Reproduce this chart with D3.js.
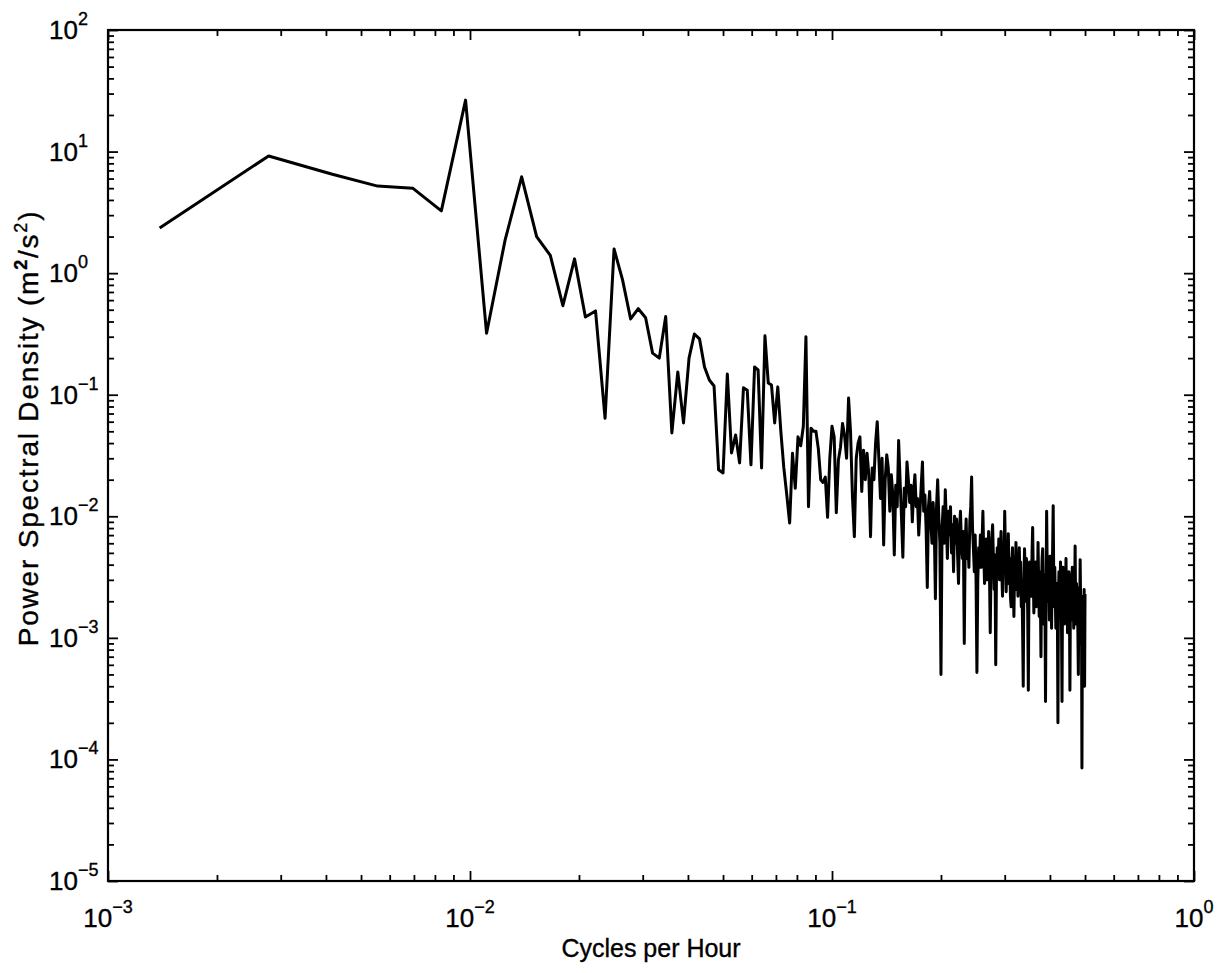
<!DOCTYPE html>
<html><head><meta charset="utf-8">
<script src="https://cdn.jsdelivr.net/npm/d3@7"></script>
<style>
body{margin:0;background:#fff}
svg{display:block}
text{font-family:"Liberation Sans",Arial,Helvetica,sans-serif;fill:#000;stroke:#000;stroke-width:0.35px}
</style>
</head><body>
<svg id="chart" width="1228" height="973"></svg>
<script>
// Record length in hours: spectral estimates sit on the bins k / nHours, k = 1..360
const nHours = 720;

// Power spectral density (m^2/s^2), one value per frequency bin
const psdValues = [
  2.35, 9.2, 6.5, 5.2, 5.0, 3.25, 26.5, 0.32, 1.87, 6.2,
  2.0, 1.4, 0.54, 1.31, 0.436, 0.489, 0.064, 1.58, 0.88, 0.42,
  0.51, 0.43, 0.22, 0.20, 0.44, 0.0485, 0.154, 0.0586, 0.20, 0.316,
  0.288, 0.169, 0.132, 0.118, 0.0241, 0.0227, 0.148, 0.0332, 0.0466, 0.0275,
  0.114, 0.109, 0.0265, 0.169, 0.16, 0.025, 0.305, 0.125, 0.12, 0.0586,
  0.116, 0.05, 0.025, 0.015, 0.0088, 0.033, 0.017, 0.045, 0.038, 0.055,
  0.30, 0.012, 0.053, 0.05, 0.05, 0.036, 0.02, 0.019, 0.021, 0.0098,
  0.03, 0.055, 0.045, 0.0107, 0.029, 0.037, 0.058, 0.046, 0.03, 0.094,
  0.05, 0.0146, 0.0068, 0.03, 0.04, 0.045, 0.016, 0.035, 0.02, 0.033,
  0.022, 0.0068, 0.025, 0.02, 0.04, 0.06, 0.03, 0.014, 0.03, 0.0058,
  0.02, 0.032, 0.025, 0.011, 0.022, 0.015, 0.0048, 0.018, 0.012, 0.042,
  0.02, 0.01, 0.0046, 0.017, 0.012, 0.028, 0.02, 0.013, 0.018, 0.009,
  0.016, 0.022, 0.012, 0.014, 0.007, 0.011, 0.018, 0.028, 0.011, 0.015,
  0.008, 0.0026, 0.012, 0.016, 0.009, 0.006, 0.013, 0.008, 0.0021, 0.012,
  0.02, 0.01, 0.006, 0.0005, 0.008, 0.012, 0.006, 0.0165, 0.009, 0.0045,
  0.011, 0.007, 0.012, 0.005, 0.0085, 0.0035, 0.01, 0.006, 0.0095, 0.005,
  0.0028, 0.008, 0.011, 0.006, 0.0045, 0.0075, 0.0009, 0.006, 0.0095, 0.0045,
  0.0065, 0.0038, 0.009, 0.012, 0.021, 0.008, 0.0055, 0.0035, 0.007, 0.003,
  0.00052, 0.003, 0.0055, 0.0038, 0.007, 0.0038, 0.006, 0.011, 0.005, 0.0028,
  0.0045, 0.0065, 0.003, 0.0042, 0.0075, 0.0035, 0.0011, 0.004, 0.0065, 0.0085,
  0.0045, 0.0025, 0.0048, 0.0006, 0.0035, 0.0055, 0.0038, 0.0065, 0.003, 0.0048,
  0.0075, 0.0035, 0.0022, 0.006, 0.0042, 0.011, 0.005, 0.0024, 0.0045, 0.0028,
  0.0072, 0.0035, 0.0045, 0.0022, 0.0018, 0.004, 0.0055, 0.003, 0.0015, 0.0038,
  0.0025, 0.0061, 0.0035, 0.0048, 0.0022, 0.0032, 0.0055, 0.0028, 0.0042, 0.0018,
  0.003, 0.0012, 0.0004, 0.0028, 0.0054, 0.0035, 0.002, 0.0045, 0.003, 0.0016,
  0.00037, 0.0025, 0.0042, 0.0028, 0.0038, 0.0022, 0.005, 0.0081, 0.0035, 0.0016,
  0.003, 0.0023, 0.0042, 0.0018, 0.0032, 0.0026, 0.0061, 0.003, 0.0015, 0.0035,
  0.0022, 0.0007, 0.0028, 0.0045, 0.0054, 0.0025, 0.0013, 0.0033, 0.0019, 0.0003,
  0.0024, 0.011, 0.0038, 0.002, 0.0042, 0.0028, 0.0014, 0.0047, 0.0025, 0.0035,
  0.0012, 0.003, 0.0055, 0.0122, 0.0032, 0.0018, 0.0038, 0.0022, 0.0012, 0.0023,
  0.0028, 0.0015, 0.0002, 0.0022, 0.0035, 0.0016, 0.002, 0.0042, 0.0025, 0.0012,
  0.0003, 0.0024, 0.0038, 0.0019, 0.003, 0.0013, 0.0028, 0.0025, 0.0045, 0.0018,
  0.0032, 0.0011, 0.0026, 0.0016, 0.0035, 0.0021, 0.00037, 0.0019, 0.0033, 0.0014,
  0.0023, 0.0038, 0.0017, 0.0026, 0.0012, 0.003, 0.002, 0.0057, 0.0022, 0.0013,
  0.0028, 0.0015, 0.0024, 0.0011, 0.0005, 0.0019, 0.0026, 0.0013, 0.0044, 0.0021,
  0.0009, 0.0018, 0.000085, 0.0012, 0.0022, 0.00055, 0.0016, 0.0025, 0.0004, 0.0023
];

const xTickExponents = [-3, -2, -1, 0];
const yTickExponents = [-5, -4, -3, -2, -1, 0, 1, 2];
const minorMantissas = [2, 3, 4, 5, 6, 7, 8, 9];
const xAxisLabel = "Cycles per Hour";
const yAxisLabelParts = ["Power Spectral Density (m", "2", "/s", "2", ")"];

const frequencies = psdValues.map((_, i) => (i + 1) / nHours);
const series = frequencies.map((f, i) => ({ f, p: psdValues[i] }));

const svg = d3.select("#chart");
const plotL = 108, plotR = 1194, plotT = 30, plotB = 881;

const x = d3.scaleLog().domain([1e-3, 1]).range([plotL, plotR]);
const y = d3.scaleLog().domain([1e-5, 1e2]).range([plotB, plotT]);

const xMajor = xTickExponents.map(e => Math.pow(10, e));
const yMajor = yTickExponents.map(e => Math.pow(10, e));
const xMinor = [];
xTickExponents.slice(0, -1).forEach(e => minorMantissas.forEach(m => xMinor.push(m * Math.pow(10, e))));
const yMinor = [];
yTickExponents.slice(0, -1).forEach(e => minorMantissas.forEach(m => yMinor.push(m * Math.pow(10, e))));

function styleAxis(g) {
  g.select(".domain").remove();
  g.selectAll(".tick line").attr("stroke", "#000").attr("stroke-width", 1.8);
  g.selectAll(".tick text").remove();
}

// ticks (inward) on all four sides
svg.append("g").attr("transform", `translate(0,${plotB})`)
  .call(d3.axisBottom(x).tickValues(xMinor).tickSize(-6)).call(styleAxis);
svg.append("g").attr("transform", `translate(0,${plotB})`)
  .call(d3.axisBottom(x).tickValues(xMajor).tickSize(-10)).call(styleAxis);
svg.append("g").attr("transform", `translate(0,${plotT})`)
  .call(d3.axisTop(x).tickValues(xMinor).tickSize(-6)).call(styleAxis);
svg.append("g").attr("transform", `translate(0,${plotT})`)
  .call(d3.axisTop(x).tickValues(xMajor).tickSize(-10)).call(styleAxis);
svg.append("g").attr("transform", `translate(${plotL},0)`)
  .call(d3.axisLeft(y).tickValues(yMinor).tickSize(-6)).call(styleAxis);
svg.append("g").attr("transform", `translate(${plotL},0)`)
  .call(d3.axisLeft(y).tickValues(yMajor).tickSize(-10)).call(styleAxis);
svg.append("g").attr("transform", `translate(${plotR},0)`)
  .call(d3.axisRight(y).tickValues(yMinor).tickSize(-6)).call(styleAxis);
svg.append("g").attr("transform", `translate(${plotR},0)`)
  .call(d3.axisRight(y).tickValues(yMajor).tickSize(-10)).call(styleAxis);

// frame
svg.append("rect").attr("x", plotL).attr("y", plotT)
  .attr("width", plotR - plotL).attr("height", plotB - plotT)
  .attr("fill", "none").attr("stroke", "#000").attr("stroke-width", 2.2);

// data line
const line = d3.line().x(d => x(d.f)).y(d => y(d.p));
svg.append("path").datum(series).attr("d", line)
  .attr("fill", "none").attr("stroke", "#000").attr("stroke-width", 3)
  .attr("stroke-linejoin", "round");

const expText = e => (e < 0 ? "\u2212" + (-e) : String(e));

// x tick labels
const xl = svg.append("g").selectAll("text").data(xTickExponents).join("text")
  .attr("x", e => x(Math.pow(10, e))).attr("y", 927)
  .attr("text-anchor", "middle").style("font-size", "26px");
xl.append("tspan").text("10");
xl.append("tspan").attr("dy", -14).style("font-size", "18px").text(expText);

// y tick labels
const yl = svg.append("g").selectAll("text").data(yTickExponents).join("text")
  .attr("x", 49).attr("y", e => y(Math.pow(10, e)) + 9)
  .attr("text-anchor", "start").style("font-size", "26px");
yl.append("tspan").text("10");
yl.append("tspan").attr("dy", -14).style("font-size", "18px").text(expText);

// axis titles
svg.append("text").attr("x", (plotL + plotR) / 2).attr("y", 957)
  .attr("text-anchor", "middle").style("font-size", "25px").text(xAxisLabel);

const yt = svg.append("text")
  .attr("transform", `translate(38,428) rotate(-90)`)
  .attr("text-anchor", "middle").style("font-size", "28px").style("letter-spacing", "1.8px");
yt.append("tspan").text(yAxisLabelParts[0]);
yt.append("tspan").attr("dy", -11).style("font-size", "18px").style("font-weight", "bold").text(yAxisLabelParts[1]);
yt.append("tspan").attr("dy", 11).text(yAxisLabelParts[2]);
yt.append("tspan").attr("dy", -11).style("font-size", "18px").text(yAxisLabelParts[3]);
yt.append("tspan").attr("dy", 11).text(yAxisLabelParts[4]);
</script>
</body></html>
